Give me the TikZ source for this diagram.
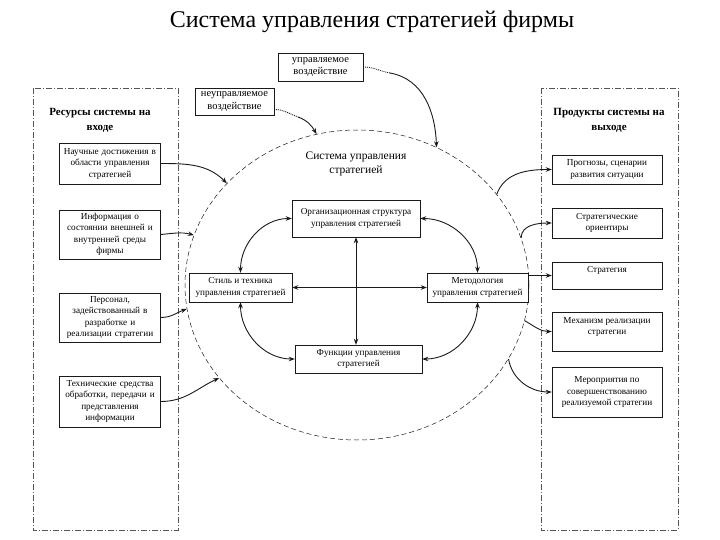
\documentclass[tikz,border=0pt]{standalone}
\usepackage{fontspec}
\setmainfont{Liberation Serif}
\usetikzlibrary{arrows.meta, positioning, shapes.geometric}
\definecolor{lineDark}{HTML}{1A1A1A}
\definecolor{zoneGray}{HTML}{555555}

\begin{document}
\begin{tikzpicture}[x=1pt, y=-1pt, font=\fontsize{9.2}{11.5}\selectfont,
    box/.style={draw=lineDark, align=center, inner sep=1pt, fill=white},
    head/.style={align=center, font=\fontsize{11}{15}\selectfont\bfseries},
    zone/.style={draw=zoneGray, line width=0.5pt, dash pattern=on 6pt off 2pt on 1pt off 2pt},
    arr/.style={-{Stealth[length=6pt, width=4.5pt]}, line width=0.9pt, lineDark},
    dbl/.style={{Stealth[length=6pt, width=4.5pt]}-{Stealth[length=6pt, width=4.5pt]}, line width=0.9pt, lineDark},
    dots/.style={densely dotted, line width=0.9pt, lineDark}]
  \useasboundingbox (0,0) rectangle (720,540);

  \node[font=\fontsize{24}{28}\selectfont] (title) at (372,22) {Система управления стратегией фирмы};

  \draw[zone] (33,88) rectangle (178,530);
  \draw[zone] (541,88) rectangle (678,530);
  \node[head] (inhead) at (100,120) {Ресурсы системы на\\входе};
  \node[head] (outhead) at (609,120) {Продукты системы на\\выходе};

  \node[draw=lineDark, dash pattern=on 5pt off 3pt, line width=0.5pt, ellipse, minimum width=344pt, minimum height=310pt, inner sep=0pt] (sys) at (357,285) {};
  \node[align=center, font=\fontsize{11.5}{13.5}\selectfont] (core) at (356,164) {Система управления\\стратегией};

  % входы
  \node[box, minimum width=101pt, minimum height=41pt, text width=99pt] (sci) at (110,163.5) {Научные достижения в\\области управления\\стратегией};
  \node[box, minimum width=101pt, minimum height=49pt, text width=99pt] (info) at (110,234.5) {Информация о\\состоянии внешней и\\внутренней среды\\фирмы};
  \node[box, minimum width=101pt, minimum height=49pt, text width=99pt] (staff) at (110,317.5) {Персонал,\\задействованный в\\разработке и\\реализации стратегии};
  \node[box, minimum width=101pt, minimum height=51pt, text width=99pt] (tech) at (110,401.5) {Технические средства\\обработки, передачи и\\представления\\информации};

  \node[box, minimum width=85pt, minimum height=28pt, font=\fontsize{10.5}{12.5}\selectfont] (ctrl) at (320.5,67) {управляемое\\воздействие};
  \node[box, minimum width=79pt, minimum height=27pt, font=\fontsize{10.5}{12.5}\selectfont] (unc) at (234.5,101.5) {неуправляемое\\воздействие};

  % ядро
  \node[box, minimum width=128pt, minimum height=37pt] (org) at (356,218.5) {Организационная структура\\управления стратегией};
  \node[box, minimum width=103pt, minimum height=29pt] (style) at (240.5,287.5) {Стиль и техника\\управления стратегией};
  \node[box, minimum width=101pt, minimum height=29pt] (method) at (477.5,287.5) {Методология\\управления стратегией};
  \node[box, minimum width=127pt, minimum height=28pt] (func) at (358.5,359) {Функции управления\\стратегией};

  % выходы
  \node[box, minimum width=110pt, minimum height=29pt] (forecast) at (607,169.5) {Прогнозы, сценарии\\развития ситуации};
  \node[box, minimum width=110pt, minimum height=30pt] (guide) at (607,223) {Стратегические\\ориентиры};
  \node[box, minimum width=110pt, minimum height=27pt] (strat) at (607,275.5) {Стратегия\\~};
  \node[box, minimum width=110pt, minimum height=39pt] (mech) at (607,331.5) {Механизм реализации\\стратегии\\~};
  \node[box, minimum width=110pt, minimum height=50pt] (improve) at (607,392) {Мероприятия по\\совершенствованию\\реализуемой стратегии};

  \draw[arr] (sci.east) to[out=0, in=135] (sys.142);
  \draw[arr] (info.east) to[out=5, in=165] (sys.163);
  \draw[arr] (staff.east) to[out=0, in=200] (sys.188);
  \draw[arr] (tech.east) to[out=0, in=205] (sys.214);

  \coordinate (ctrlbend) at (390,73);
  \coordinate (uncbend) at (298,117);
  \draw[dots] (ctrl.east) to[out=0, in=170] (ctrlbend);
  \draw[arr] (ctrlbend) to[out=-10, in=92] (sys.60);
  \draw[dots] ([yshift=-8pt]unc.east) to[out=0, in=160] (uncbend);
  \draw[arr] (uncbend) to[out=-20, in=120] (sys.105);

  \draw[dbl] (org.west) to[out=180, in=90] (style.north);
  \draw[dbl] (org.east) to[out=0, in=90] (method.north);
  \draw[dbl] (style.south) to[out=-90, in=180] (func.west);
  \draw[dbl] (method.south) to[out=-90, in=0] (func.east);
  \draw[dbl] (org.south) -- (org.south |- func.north);
  \draw[dbl, line width=1.6pt] (style.east) -- (method.west);

  \draw[arr] (sys.33) to[out=70, in=180] (forecast.west);
  \draw[arr] (sys.16) to[out=90, in=180] (guide.west);
  \draw[arr] (method.east |- strat.west) -- (strat.west);
  \draw[arr] (sys.348) to[out=-30, in=180] (mech.west);
  \draw[arr] (sys.334) to[out=-80, in=180] (improve.west);
\end{tikzpicture}
\end{document}
